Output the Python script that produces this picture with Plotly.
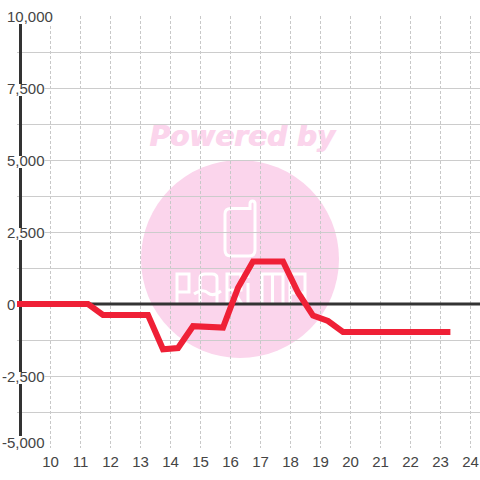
import re
import plotly.graph_objects as go

x_ticks = [10, 11, 12, 13, 14, 15, 16, 17, 18, 19, 20, 21, 22, 23, 24]
y_major = [10000, 7500, 5000, 2500, 0, -2500, -5000]
y_labels = ["10,000", "7,500", "5,000", "2,500", "0", "-2,500", "-5,000"]
hours = [9.0, 11.25, 11.75, 13.25, 13.75, 14.25, 14.75, 15.75, 16.25, 16.75, 17.75, 18.25, 18.75, 19.25, 19.75, 23.33]
values = [0, 0, -380, -380, -1570, -1530, -770, -820, 560, 1480, 1480, 400, -400, -590, -970, -970]
watermark_top = "Powered by"

W = H = 480
L, R, T, B = 17, 480, 16, 448
PINK = "#fbd5ec"
TEXT = "#444444"
AXIS = "#333333"
x0 = 10 + (L - 50.5) / 30
x1 = 10 + (R - 50.5) / 30
PER_PX = 15000 / (B - T)
hours[0] = x0  # the red line runs out to the left edge of the drawing area


def px(v):
    return (v - L) / (R - L)


def py(v):
    return (B - v) / (B - T)


def to_paper(d):
    """Convert an absolute SVG path in picture pixels to paper fractions."""
    out = []
    for cmd, args in re.findall(r"([MLHVQZ])([^MLHVQZ]*)", d):
        nums = [float(n) for n in args.split()]
        if cmd == "H":
            conv = [px(n) for n in nums]
        elif cmd == "V":
            conv = [py(n) for n in nums]
        else:
            conv = [px(n) if i % 2 == 0 else py(n) for i, n in enumerate(nums)]
        out.append(cmd + " ".join(f"{c:.5f}" for c in conv))
    return " ".join(out)


phone_path = "M231 208.5 H250 V204 Q250 201 252.5 201 Q255 201 255 204 V250 Q255 256 249 256 H231 Q225 256 225 250 V214 Q225 208.5 231 208.5 Z"
logo_paths = [
    "M177 304 V274 H189 V292 H177",
    "M200 304 V278 Q200 274 205 274 H212 Q217 274 217 278 V304 M194 294 Q203 288 208 293 Q213 297 221 291",
    "M227 304 V274 H241 V290 H227 M233 290 L242 304",
    "M248 283 V304 M248 274 V278",
    "M262 304 V274 H283 V304 M272.5 274 V304",
    "M290 304 V274 H305 V304 M290 293 H305",
]

fig = go.Figure()
axis_x = x0 + 3.5 / 30
fig.add_trace(go.Scatter(x=[axis_x, x1], y=[0, 0], mode="lines", line=dict(color=AXIS, width=3), hoverinfo="skip"))
fig.add_trace(go.Scatter(x=[axis_x, axis_x], y=[10000, -5000], mode="lines", line=dict(color=AXIS, width=3), hoverinfo="skip"))
fig.add_trace(go.Scatter(x=hours, y=values, mode="lines", line=dict(color="#ef2036", width=6), hoverinfo="skip"))

shapes = [
    dict(type="circle", xref="paper", yref="paper", layer="below", x0=px(141), x1=px(339), y0=py(358), y1=py(160), fillcolor=PINK, line=dict(width=0)),
    dict(type="path", xref="paper", yref="paper", layer="below", line=dict(color="white", width=3), path=to_paper(phone_path)),
    # hides the stub of the grid left of the vertical axis, under the traces
    dict(type="rect", xref="x", yref="y", layer="below", x0=x0, x1=axis_x, y0=-5000, y1=10000, fillcolor="white", line=dict(width=0)),
]
for dx in (0, 1):
    shapes.append(dict(type="rect", xref="paper", yref="paper", layer="below", x0=px(130 + dx), x1=px(354 + dx), y0=py(154), y1=py(114),
                       fillcolor="rgba(0,0,0,0)", line=dict(width=0),
                       label=dict(text="<b><i>" + watermark_top + "</i></b>", textposition="middle center",
                                  font=dict(family="DejaVu Sans", size=28, color=PINK))))
for p in logo_paths:
    shapes.append(dict(type="path", xref="paper", yref="paper", layer="below", line=dict(color="white", width=3), path=to_paper(p)))

annotations = []
for v, lab in zip(y_major, y_labels):
    left = 2 if lab.startswith("-") else 7
    right = {"10,000": 53, "0": 17}.get(lab, 44.5)
    top_px, bottom_px = (12, 0) if v == -5000 else (10, 8) if v == 10000 else (4, 8)
    shapes.append(dict(type="rect", xref="paper", yref="y", layer="above", x0=px(0), x1=px(right),
                       y0=v - bottom_px * PER_PX, y1=v + top_px * PER_PX, fillcolor="white", line=dict(width=0)))
    annotations.append(dict(text=lab, x=px(left), y=v, xref="paper", yref="y", xanchor="left", yanchor="middle", showarrow=False,
                            borderpad=0, borderwidth=0, align="left",
                            yshift=6 if v == -5000 else 0,
                            font=dict(family="Liberation Sans", size=15, color=TEXT)))

fig.update_layout(
    width=W, height=H, margin=dict(l=L, r=W - R, t=T, b=H - B), paper_bgcolor="white", plot_bgcolor="rgba(0,0,0,0)",
    showlegend=False, shapes=shapes, annotations=annotations,
    xaxis=dict(range=[x0, x1], tickvals=x_ticks, ticks="", showline=False, zeroline=False, showgrid=True, gridcolor="#c8c8c8", griddash="3px,2px", gridwidth=1,
               ticklabelstandoff=3, tickfont=dict(family="Liberation Sans", size=15, color=TEXT)),
    yaxis=dict(range=[-5000, 10000], tickvals=[10000 - 1250 * i for i in range(13)], showticklabels=False, ticks="", showline=False, zeroline=False,
               showgrid=True, gridcolor="#cccccc", gridwidth=1),
)
fig.write_html("out.html", config=dict(displayModeBar=False), post_script="document.body.style.margin='0';")
